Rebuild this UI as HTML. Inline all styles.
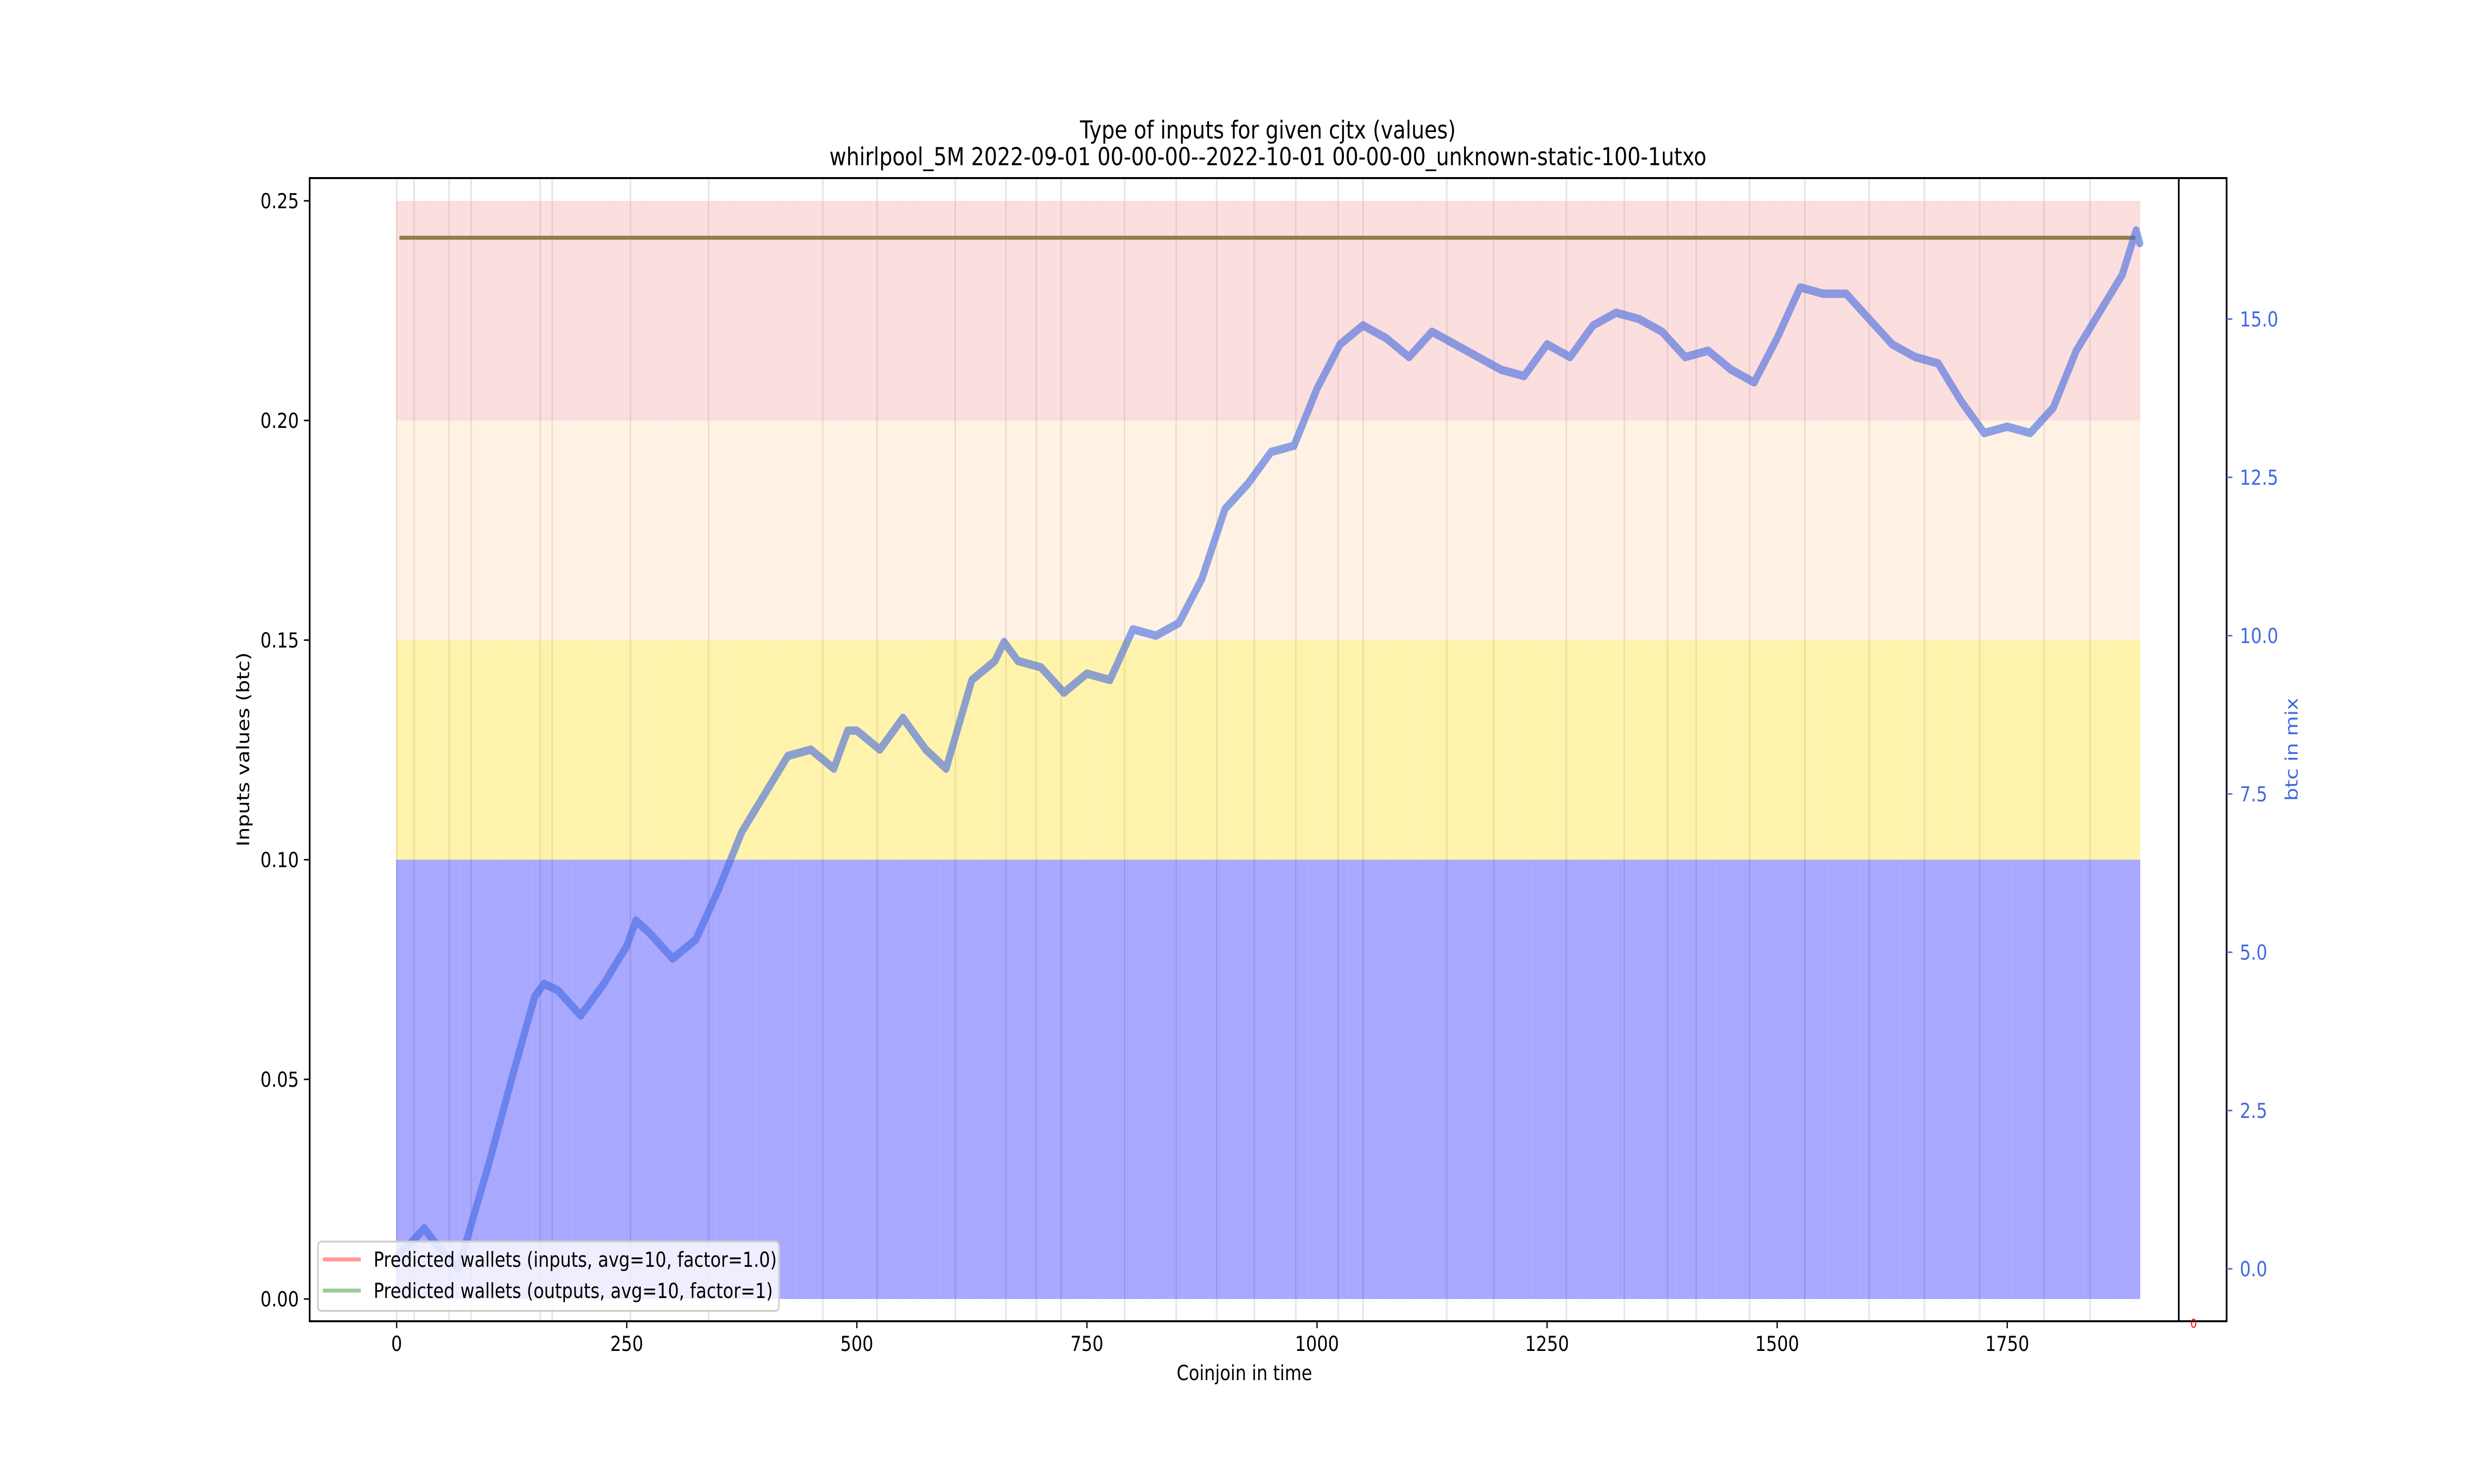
<!DOCTYPE html>
<html><head><meta charset="utf-8"><title>Type of inputs for given cjtx (values)</title>
<style>html,body{margin:0;padding:0;background:#fff;width:100%;height:100%;overflow:hidden}svg{display:block;width:100vw;height:100vh}text{font-family:"DejaVu Sans","Liberation Sans",sans-serif}</style>
</head><body>
<svg id="chart" xmlns="http://www.w3.org/2000/svg" viewBox="0 0 6000 3000" preserveAspectRatio="none">
<rect x="0" y="0" width="6000" height="3000" fill="#fff"/>
<g id="grid"></g>
<g id="bars"></g>
<g id="lines"></g>
<g id="axes"></g>
<text x="3075" y="280" font-size="50" text-anchor="middle">Type of inputs for given cjtx (values)</text>
<text x="3075" y="334" font-size="50" text-anchor="middle">whirlpool_5M 2022-09-01 00-00-00--2022-10-01 00-00-00_unknown-static-100-1utxo</text>
<text x="3018" y="2790" font-size="42" text-anchor="middle">Coinjoin in time</text>
<text x="0" y="0" font-size="42" text-anchor="middle" transform="translate(604,1515) rotate(-90)">Inputs values (btc)</text>
<text x="0" y="0" font-size="42" fill="#4169e1" text-anchor="middle" transform="translate(5572,1515) rotate(-90)">btc in mix</text>
<text x="5320" y="2684" font-size="25" fill="#ff0000" text-anchor="middle">0</text>
<g>
<rect x="771" y="2510" width="1118" height="140" rx="8" fill="#fff" fill-opacity="0.8" stroke="#d0d0d0" stroke-width="4"/>
<line x1="783" y1="2546" x2="875" y2="2546" stroke="#ff9a9a" stroke-width="8"/>
<text x="906" y="2561" font-size="42">Predicted wallets (inputs, avg=10, factor=1.0)</text>
<line x1="783" y1="2609" x2="875" y2="2609" stroke="#9acc9a" stroke-width="8"/>
<text x="906" y="2624" font-size="42">Predicted wallets (outputs, avg=10, factor=1)</text>
</g>
</svg>
<script>
// ---- data ----
const coinjoinCount = 1895;
const bandBottoms = [0, 0.10, 0.15, 0.20];
const bandTops = [0.10, 0.15, 0.20, 0.25];
const bandNames = ['band-under-0.10', 'band-0.10-0.15', 'band-0.15-0.20', 'band-0.20-0.25'];
const walletLevel = 0.2416;
const walletStart = 3;
const walletEnd = 1889;
const daySeparators = [0, 19, 57, 81, 156, 169, 254, 339, 463, 522, 607, 662, 695, 722, 791, 847, 891, 932, 977, 1023, 1050, 1141, 1192, 1271, 1334, 1381, 1412, 1470, 1530, 1600, 1660, 1720, 1790, 1840];
const btcX = [0, 15, 30, 45, 67, 85, 100, 125, 150, 160, 175, 200, 225, 250, 260, 275, 300, 325, 350, 375, 400, 425, 450, 475, 490, 500, 525, 550, 575, 597, 625, 650, 660, 675, 700, 725, 750, 775, 800, 825, 850, 875, 900, 925, 950, 975, 1000, 1025, 1050, 1075, 1100, 1125, 1150, 1175, 1200, 1225, 1250, 1275, 1300, 1325, 1350, 1375, 1400, 1425, 1450, 1475, 1500, 1525, 1550, 1575, 1600, 1625, 1650, 1675, 1700, 1725, 1750, 1775, 1800, 1825, 1850, 1875, 1890, 1894];
const btcVal = [0.2, 0.4, 0.64, 0.35, 0.0, 0.9, 1.65, 3.0, 4.3, 4.5, 4.4, 4.0, 4.5, 5.1, 5.5, 5.3, 4.9, 5.2, 6.0, 6.9, 7.5, 8.1, 8.2, 7.9, 8.5, 8.5, 8.2, 8.7, 8.2, 7.9, 9.3, 9.6, 9.9, 9.6, 9.5, 9.1, 9.4, 9.3, 10.1, 10.0, 10.2, 10.9, 12.0, 12.4, 12.9, 13.0, 13.9, 14.6, 14.9, 14.7, 14.4, 14.8, 14.6, 14.4, 14.2, 14.1, 14.6, 14.4, 14.9, 15.1, 15.0, 14.8, 14.4, 14.5, 14.2, 14.0, 14.7, 15.5, 15.4, 15.4, 15.0, 14.6, 14.4, 14.3, 13.7, 13.2, 13.3, 13.2, 13.6, 14.5, 15.1, 15.7, 16.4, 16.2];
const xTicks = [0, 250, 500, 750, 1000, 1250, 1500, 1750];
const yTicks = [0.00, 0.05, 0.10, 0.15, 0.20, 0.25];
const y2Ticks = [0.0, 2.5, 5.0, 7.5, 10.0, 12.5, 15.0];

// ---- scales ----
const X0 = 962, XPX = 2.232;
const xS = v => X0 + v * XPX;
const Y0 = 2626, YPX = 8880;
const yS = v => Y0 - v * YPX;
const Y20 = 2565, Y2PX = 128;
const y2S = v => Y20 - v * Y2PX;
const L = 751, R = 5284, R2 = 5400, T = 360, B = 2671;
const NS = 'http://www.w3.org/2000/svg';
function mk(tag, attrs, parent) {
  const e = document.createElementNS(NS, tag);
  for (const k in attrs) e.setAttribute(k, attrs[k]);
  parent.appendChild(e);
  return e;
}
const gGrid = document.getElementById('grid');
const gBars = document.getElementById('bars');
const gLines = document.getElementById('lines');
const gAxes = document.getElementById('axes');

daySeparators.forEach(d => {
  const l = mk('line', {x1: xS(d), x2: xS(d), y1: T, y2: B, stroke: '#e6e6e6', 'stroke-width': 4}, gGrid);
  
  
});

const bandColors = ['#2a2aff', '#ffd800', '#ffc890', '#f29a9a'];
const bandOpacity = [0.75, 0.6, 0.45, 0.6];
for (let b = 0; b < bandBottoms.length; b++) {
  const g = mk('g', {fill: bandColors[b], 'fill-opacity': bandOpacity[b]}, gBars);
  
  
  const y1 = yS(bandTops[b]), y2 = yS(bandBottoms[b]);
  let d = '';
  for (let i = 0; i < coinjoinCount; i++) {
    const x = xS(i) - 0.6;
    d += 'M' + x.toFixed(2) + ' ' + y1.toFixed(1) + 'h1.2V' + y2.toFixed(1) + 'h-1.2Z';
  }
  const p = mk('path', {d: d}, g);
  
  
}

const wl = mk('line', {x1: xS(walletStart), x2: xS(walletEnd), y1: yS(walletLevel), y2: yS(walletLevel), stroke: '#8c7e46', 'stroke-width': 8}, gLines);



const pts = btcX.map((x, i) => xS(x).toFixed(1) + ',' + y2S(btcVal[i]).toFixed(1)).join(' ');
const bl = mk('polyline', {points: pts, fill: 'none', stroke: '#4169e1', 'stroke-opacity': 0.6, 'stroke-width': 17, 'stroke-linejoin': 'round', 'stroke-linecap': 'round'}, gLines);



// frame
const fr = mk('path', {d: `M${L} ${T}H${R2}V${B}H${L}Z M${R} ${T}V${B}`, fill: 'none', stroke: '#000', 'stroke-width': 4}, gAxes);



xTicks.forEach(v => {
  const t = mk('line', {x1: xS(v), x2: xS(v), y1: B, y2: B + 14, stroke: '#000', 'stroke-width': 3}, gAxes);
  
  
  const tx = mk('text', {x: xS(v), y: B + 60, 'font-size': 42, 'text-anchor': 'middle'}, gAxes);
  
  
  tx.textContent = String(v);
});
yTicks.forEach(v => {
  const t = mk('line', {x1: L - 14, x2: L, y1: yS(v), y2: yS(v), stroke: '#000', 'stroke-width': 3}, gAxes);
  
  
  const tx = mk('text', {x: L - 26, y: yS(v) + 15, 'font-size': 42, 'text-anchor': 'end'}, gAxes);
  
  
  tx.textContent = v.toFixed(2);
});
y2Ticks.forEach(v => {
  const t = mk('line', {x1: R2, x2: R2 + 14, y1: y2S(v), y2: y2S(v), stroke: '#4169e1', 'stroke-width': 3}, gAxes);
  
  
  const tx = mk('text', {x: R2 + 32, y: y2S(v) + 15, 'font-size': 42, fill: '#4169e1'}, gAxes);
  
  
  tx.textContent = v.toFixed(1);
});
</script>
</body></html>
